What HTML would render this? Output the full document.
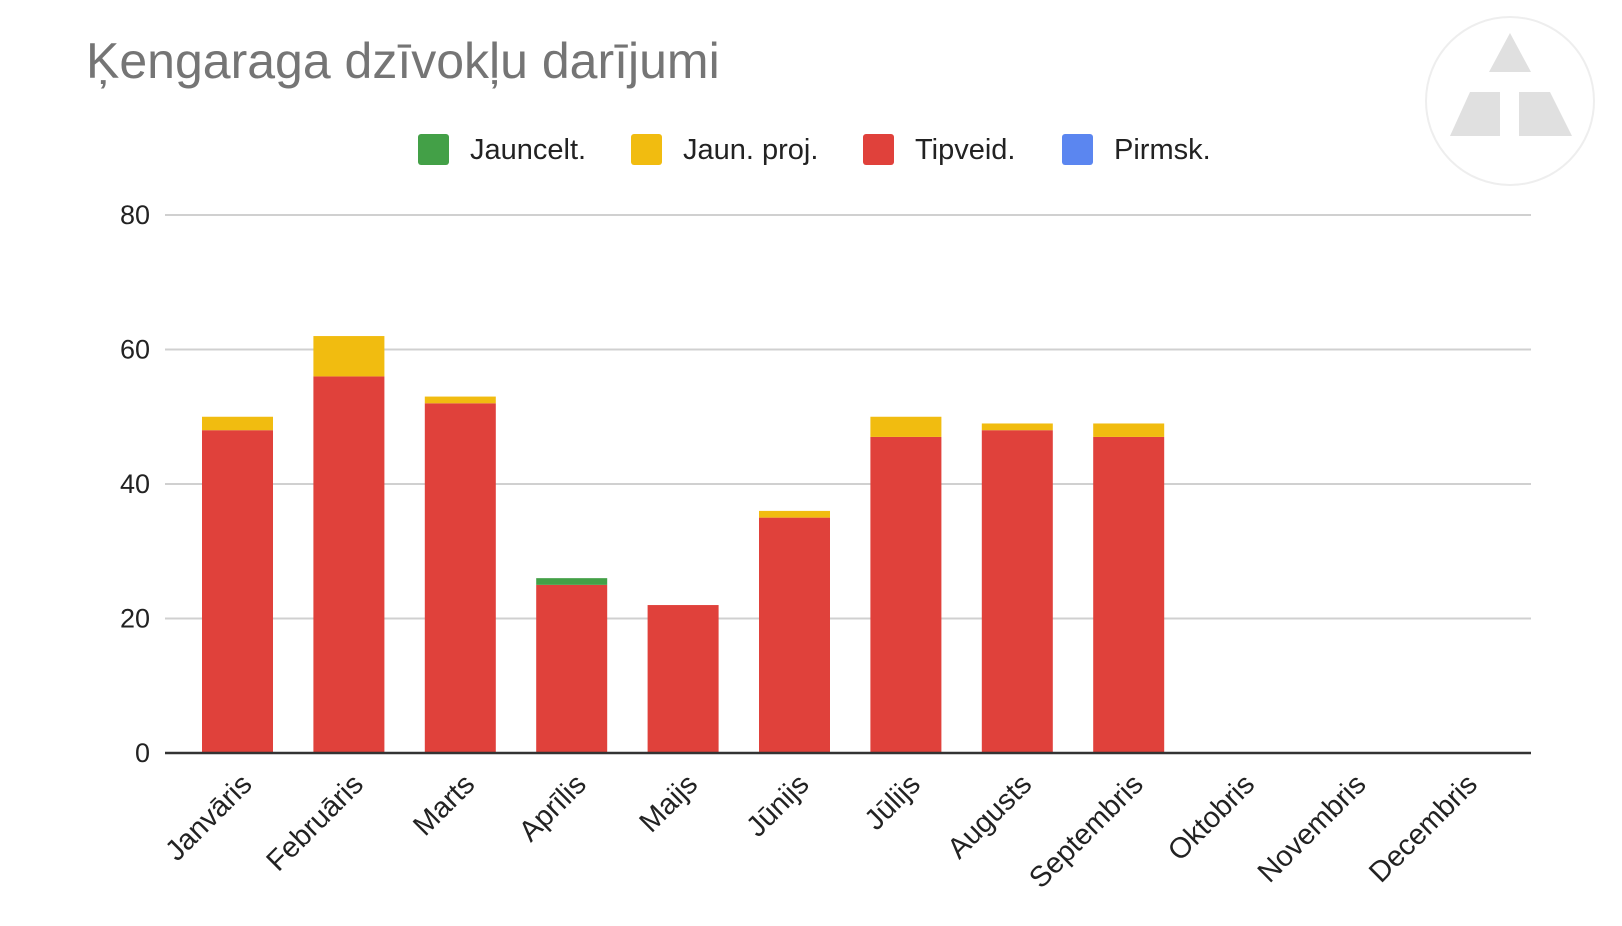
<!DOCTYPE html>
<html><head><meta charset="utf-8"><style>
body{margin:0;background:#fff;width:1622px;height:921px;overflow:hidden;font-family:"Liberation Sans",sans-serif}
</style></head><body>
<svg width="1622" height="921" id="c" xmlns="http://www.w3.org/2000/svg">
<text x="86" y="78" font-size="50" fill="#757575">Ķengaraga dzīvokļu darījumi</text>
<g>
<circle cx="1510" cy="101" r="84" fill="none" stroke="#eee" stroke-width="2"/>
<polygon points="1510,33 1489,72 1531,72" fill="#e0e0e0"/>
<polygon points="1450,136 1500,136 1500,92 1470,92" fill="#e0e0e0"/>
<polygon points="1519,136 1572,136 1550,92 1519,92" fill="#e0e0e0"/>
</g>
<g id="legend"></g>
<g id="grid"></g><g id="bars"></g><g id="xl"></g>
</svg>
<script>
const categories=["Janvāris","Februāris","Marts","Aprīlis","Maijs","Jūnijs","Jūlijs","Augusts","Septembris","Oktobris","Novembris","Decembris"];
const tipveid=[48,56,52,25,22,35,47,48,47,0,0,0];
const jaunProj=[2,6,1,0,0,1,3,1,2,0,0,0];
const jauncelt=[0,0,0,1,0,0,0,0,0,0,0,0];
const pirmsk=[0,0,0,0,0,0,0,0,0,0,0,0];
const yTicks=[0,20,40,60,80];
const seriesNames=["Jauncelt.","Jaun. proj.","Tipveid.","Pirmsk."];
const NS="http://www.w3.org/2000/svg";
const y0=753,yTop=215,yMax=80;
const y=v=>y0-(y0-yTop)*v/yMax;
const xc=i=>237.5+111.4*i;
const bw=71;
function mk(t,a,p){const e=document.createElementNS(NS,t);for(const k in a)e.setAttribute(k,a[k]);p.appendChild(e);return e;}
const grid=document.getElementById('grid');
yTicks.forEach(t=>{
 if(t>0){const l=mk('line',{x1:165,x2:1531,y1:y(t),y2:y(t),stroke:'#d0d0d0','stroke-width':2},grid);
 
 }
 const tx=mk('text',{x:150,y:y(t)+9,'font-size':27,'text-anchor':'end',fill:'#222'},grid);
 tx.textContent=t;
 
 
});
const bars=document.getElementById('bars');
const colors=["#43a047","#f1bc10","#e0413b","#5b86f0"];
categories.forEach((c,i)=>{
 let base=0;
 [[tipveid,"#e0413b","tipveid"],[jaunProj,"#f1bc10","jaun-proj"],[jauncelt,"#43a047","jauncelt"],[pirmsk,"#5b86f0","pirmsk"]].forEach(([arr,col,n])=>{
  const v=arr[i]; if(v<=0)return;
  const r=mk('rect',{x:xc(i)-bw/2,y:y(base+v),width:bw,height:y(base)-y(base+v),fill:col},bars);
  
  
  base+=v;
 });
 const tx=mk('text',{x:0,y:0,'font-size':29,'text-anchor':'end',fill:'#222',transform:`translate(${xc(i)+16},${786}) rotate(-45)`},document.getElementById('xl'));
 tx.textContent=c;
 
 
});
const ax=mk('line',{x1:165,x2:1531,y1:y0,y2:y0,stroke:'#333','stroke-width':2.5},bars);


const lg=document.getElementById('legend');
const lx=[418,631,863,1062];
seriesNames.forEach((n,i)=>{
 const r=mk('rect',{x:lx[i],y:134,width:31,height:31,rx:3,fill:colors[i]},lg);
 
 
 const t=mk('text',{x:lx[i]+52,y:159,'font-size':29,fill:'#222'},lg);
 t.textContent=n;
 
 
});
</script>
</body></html>
